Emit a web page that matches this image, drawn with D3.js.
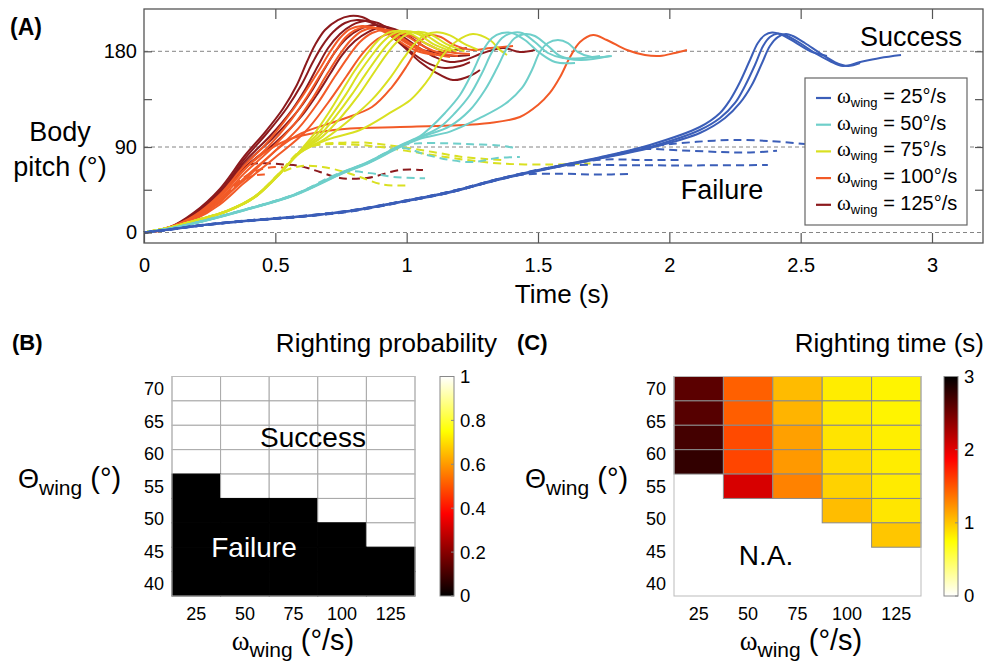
<!DOCTYPE html>
<html>
<head>
<meta charset="utf-8">
<script src="https://cdn.jsdelivr.net/npm/d3@7"></script>
<style>
  body { margin: 0; background: #fff; }
  svg { display: block; font-family: "Liberation Sans", Arial, sans-serif; }
</style>
</head>
<body>
<svg id="chart" width="986" height="665"></svg>
<script>
// ---------- panel A: body pitch trajectories, points are [time (s), pitch (deg)] ----------
const solid25 = [
  [[0,0],[.099,3.3],[.213,7.6],[.404,12.8],[.594,17],[.784,22.9],[.975,32.5],[1.165,43],[1.355,56.8],[1.545,68.4],[1.736,79.2],[1.926,91.9],[2.116,108.8],[2.193,122],[2.231,134.2],[2.269,151.1],[2.307,171.8],[2.337,187.8],[2.364,195.3],[2.391,197.6],[2.421,196.2],[2.478,188.7],[2.535,180.3],[2.6,175.6]],
  [[0,0],[.099,3.2],[.213,7.4],[.404,12.6],[.594,16.8],[.784,22.6],[.975,32.1],[1.165,42.6],[1.355,56.3],[1.545,67.9],[1.736,78.4],[1.926,90],[2.116,106],[2.193,117.3],[2.25,131.4],[2.288,147.4],[2.326,167.1],[2.357,185],[2.383,193.4],[2.413,196.7],[2.44,195.3],[2.497,187.8],[2.554,178.4],[2.611,170.9],[2.661,166.2],[2.726,169.9],[2.802,173.7],[2.882,176.5]],
  [[0,0],[.099,3.1],[.213,7.2],[.404,12.3],[.594,16.5],[.784,22.3],[.975,31.7],[1.165,42.2],[1.355,55.8],[1.545,67.4],[1.736,77.8],[1.926,89],[2.116,103.2],[2.212,117.3],[2.269,131.4],[2.314,148.3],[2.353,169],[2.383,185],[2.413,193.4],[2.444,196.2],[2.47,194.4],[2.516,187.8],[2.573,178.4],[2.63,169.9],[2.68,166.2],[2.726,169]]
];
const dashed25 = [
  [[0,0],[.099,3.3],[.213,7.6],[.404,12.9],[.594,17.2],[.784,23],[.975,32.5],[1.165,43],[1.355,56.6],[1.545,68.2],[1.736,78.8],[1.926,90.5],[2.04,93.5],[2.14,95.5],[2.242,96.6],[2.383,95.6],[2.516,92.8]],
  [[0,0],[.099,3.1],[.213,7.2],[.404,12.4],[.594,16.6],[.784,22.3],[.975,31.8],[1.165,42.3],[1.355,56],[1.545,67.6],[1.736,78.1],[1.888,87.5],[2.04,86.5],[2.193,84.7],[2.307,84.2],[2.41,86]],
  [[0,0],[.099,3.4],[.213,7.8],[.404,13],[.594,17.3],[.784,23.2],[.975,32.6],[1.165,43.2],[1.355,56.8],[1.545,68.3],[1.65,71],[1.85,70.8],[2.04,70.6],[2.2,70.8],[2.375,71]],
  [[0,0],[.099,3],[.213,7],[.404,12.2],[.594,16.3],[.784,22],[.975,31.5],[1.165,42],[1.3,52],[1.431,60.5],[1.584,61.8],[1.724,61],[1.861,61.6]],
  [[0,0],[.099,3.2],[.213,7.3],[.404,12.5],[.594,16.6],[.784,22.4],[.975,31.9],[1.165,42.4],[1.355,56.1],[1.545,67.7],[1.736,76.5],[1.9,76.3],[2.05,76.3]]
];
const solid50 = [
  [[0,0],[.099,4.3],[.19,9.9],[.381,24],[.571,39.8],[.761,64.2],[.849,73.8],[.975,91.6],[1.051,100.2],[1.089,107.9],[1.146,122],[1.203,138.9],[1.249,159.6],[1.287,179.3],[1.325,192.5],[1.363,197.2],[1.401,197.2],[1.45,190.6],[1.507,178.4],[1.565,169.9],[1.641,169]],
  [[0,0],[.099,4.2],[.19,9.7],[.381,23.7],[.571,39.5],[.761,63.7],[.849,73.2],[.975,91],[1.051,99.4],[1.127,108.8],[1.184,122],[1.241,138.9],[1.287,159.6],[1.325,179.3],[1.363,192.5],[1.401,197.2],[1.439,197.2],[1.488,188.7],[1.538,178.4],[1.595,173.7],[1.671,173.7],[1.736,175.5]],
  [[0,0],[.099,4.1],[.19,9.6],[.381,23.5],[.571,39.2],[.761,63.3],[.849,72.8],[.975,90.5],[1.051,98.9],[1.165,109.7],[1.241,124.8],[1.298,143.6],[1.344,164.3],[1.382,183.1],[1.412,192.5],[1.45,196.3],[1.488,194.4],[1.538,185],[1.584,175.6],[1.66,171.8],[1.774,175.6]],
  [[0,0],[.099,4],[.19,9.4],[.381,23.2],[.571,38.8],[.761,62.8],[.849,72.3],[.975,89.8],[1.051,97.8],[1.165,104.5],[1.279,117.3],[1.374,130.4],[1.439,145.5],[1.477,162.4],[1.507,179.3],[1.538,187.8],[1.576,190.6],[1.614,187.8],[1.652,179.3],[1.705,174.6],[1.781,175.6]]
];
const dashed50 = [
  [[0,0],[.099,4.3],[.19,9.9],[.381,24],[.571,40],[.761,64],[.849,73.5],[.975,91],[1.05,93.5],[1.15,93.5],[1.25,92.5],[1.35,91.5],[1.405,89.5]],
  [[0,0],[.099,4.1],[.19,9.6],[.381,23.5],[.571,39.2],[.761,63.4],[.849,72.9],[.975,88.9],[1.077,81.6],[1.165,76.3],[1.253,74.2],[1.344,78.4],[1.431,79.5]],
  [[0,0],[.099,4.2],[.19,9.8],[.381,23.8],[.571,39.6],[.761,63.7],[.86,62.5],[.95,58.5],[1.07,57]]
];
const solid75 = [
  [[0,0],[.099,5.4],[.19,12.3],[.316,22.9],[.419,37.5],[.507,60],[.594,86],[.65,103],[.70,121],[.75,141],[.80,161],[.85,178],[.89,190],[.93,197.5],[.97,199.3],[1.02,196],[1.075,187],[1.14,180]],
  [[0,0],[.099,5.3],[.19,12.2],[.316,22.7],[.419,37.2],[.507,59.7],[.594,85.5],[.66,102],[.715,120],[.77,140],[.82,160],[.87,177],[.91,189],[.95,196.8],[.995,199.1],[1.045,196],[1.1,187],[1.17,180]],
  [[0,0],[.099,5.3],[.19,12.1],[.316,22.6],[.419,37],[.507,59.5],[.594,85],[.67,101],[.73,119],[.79,139],[.845,159],[.895,176.5],[.935,188.5],[.975,196.5],[1.02,198.5],[1.07,195.5],[1.125,187],[1.19,180]],
  [[0,0],[.099,5.2],[.19,12],[.316,22.4],[.419,36.8],[.507,59.2],[.594,84.6],[.68,100],[.75,118],[.815,138],[.87,158],[.92,176],[.96,188],[1.0,196],[1.045,198.3],[1.095,195.5],[1.15,187],[1.22,180]],
  [[0,0],[.099,5.2],[.19,11.9],[.316,22.3],[.419,36.6],[.507,58.9],[.594,84.2],[.69,98],[.78,115],[.87,135],[.94,156],[.99,174],[1.03,187],[1.07,195.5],[1.115,198],[1.165,195],[1.22,187],[1.27,181.5]],
  [[0,0],[.099,5.1],[.19,11.8],[.316,22.2],[.419,36.4],[.507,58.6],[.594,83.8],[.7,97],[.822,106],[.936,122],[1.013,134],[1.051,143.6],[1.089,155.8],[1.138,176.5],[1.191,189.7],[1.252,196.3],[1.317,190.6],[1.355,181.2],[1.382,176.5]]
];
const dashed75 = [
  [[0,0],[.099,5.4],[.19,12.3],[.316,22.8],[.419,37.3],[.507,60],[.594,85.5],[.65,91.5],[.75,92.8],[.9,90],[1.05,83.7],[1.2,77.4],[1.36,72.6],[1.55,71.6],[1.7,72.6]],
  [[0,0],[.099,5.2],[.19,12],[.316,22.4],[.419,36.5],[.48,52],[.53,64],[.6,70],[.68,69],[.76,64],[.822,58.4],[.91,50.5],[.995,49.5]],
  [[0,0],[.099,5.3],[.19,12.2],[.316,22.7],[.419,37.2],[.507,59.8],[.594,85.2],[.66,92],[.75,94],[.85,94],[.98,90],[1.1,84.7],[1.2,80],[1.3,77.4],[1.36,76.3]]
];
const solid100 = [
  [[0,0],[.099,5.8],[.19,17.4],[.289,40],[.381,70],[.461,92],[.537,115],[.601,137],[.662,160.5],[.708,179.3],[.746,192.5],[.784,200.9],[.83,203.8],[.879,201.9],[.936,195.3],[.994,185.9],[1.051,179.3],[1.108,176.5]],
  [[0,0],[.099,4.7],[.19,16.3],[.289,37],[.381,66],[.472,90],[.556,114],[.62,137],[.678,160.5],[.727,179.3],[.765,192.5],[.803,200],[.849,202.8],[.898,200.9],[.955,194.4],[1.013,185.9],[1.07,179.3],[1.146,175.6]],
  [[0,0],[.099,4.7],[.19,15.3],[.289,35],[.381,62],[.48,87],[.571,111],[.64,135.2],[.697,158.6],[.746,177.4],[.788,190.6],[.83,199.1],[.872,201.9],[.925,200],[.975,193.4],[1.032,185],[1.089,178.4],[1.165,174.6]],
  [[0,0],[.099,4.2],[.19,14.2],[.289,32],[.381,57],[.487,83],[.586,107],[.662,131.4],[.723,154.9],[.777,174.6],[.822,188.7],[.868,197.2],[.917,200],[.967,198.1],[1.02,191.5],[1.07,184],[1.127,178.4],[1.195,175.6]],
  [[0,0],[.099,3.7],[.19,13.2],[.289,29.5],[.381,52],[.499,79],[.613,104.1],[.7,131.4],[.769,155.8],[.83,177.4],[.879,189.7],[.929,196.3],[.975,197.2],[1.02,194.4],[1.07,187.8],[1.127,181.2],[1.184,178.4],[1.241,177.4]],
  [[0,0],[.099,4],[.19,15],[.289,34],[.381,55],[.518,90],[.6,103],[.746,115.4],[.868,127.6],[.944,146.4],[.998,165.2],[1.036,181.2],[1.058,190.6],[1.09,195.3],[1.13,193.4],[1.18,186],[1.25,181.2],[1.32,183.1],[1.405,185]],
  [[0,0],[.099,5.8],[.213,20.5],[.308,44],[.404,72],[.48,88],[.556,97.5],[.67,104.1],[.784,107.4],[.975,108.8],[1.165,110.2],[1.317,112.6],[1.431,118.2],[1.5,129.5],[1.545,140.8],[1.584,155.8],[1.622,174.6],[1.66,188.7],[1.71,195.3],[1.762,190.6],[1.839,181.2],[1.907,176.5],[1.964,175.6],[2.021,178.4],[2.067,181.2]]
];
const dashed100 = [
  [[0,0],[.099,4.7],[.19,16],[.289,34],[.38,58],[.44,66],[.5,69],[.53,68.5]],
  [[0,0],[.099,4.5],[.19,15],[.289,32],[.36,52],[.42,60],[.46,61]]
];
const solid125 = [
  [[0,0],[.099,5.8],[.19,21],[.289,46],[.381,80],[.461,104],[.529,126],[.582,148.3],[.62,169.9],[.651,185.9],[.689,200],[.738,209.4],[.784,213.2],[.83,212.2],[.879,205.6],[.936,195.3],[.994,183.1],[1.051,169.9],[1.108,160.5],[1.176,153],[1.241,156.8],[1.279,162.4]],
  [[0,0],[.099,5.3],[.19,20],[.289,44],[.381,77],[.472,104.1],[.544,126.7],[.601,149.3],[.643,169.9],[.678,184.9],[.72,198.1],[.765,206.6],[.811,209.4],[.86,207.5],[.917,200],[.975,188.7],[1.032,176.5],[1.089,168],[1.146,164.3],[1.203,166.2],[1.241,169.9]],
  [[0,0],[.099,4.7],[.19,19],[.289,42],[.381,74],[.48,100.3],[.563,124.8],[.617,145.5],[.662,166.2],[.701,183.1],[.746,196.3],[.792,204.7],[.841,208.5],[.891,206.6],[.944,199.1],[1.001,188.7],[1.058,181.2],[1.127,179.3],[1.184,181.2],[1.229,183.1]],
  [[0,0],[.099,4.7],[.19,18],[.289,40],[.381,71],[.487,97.5],[.579,122],[.636,141.7],[.685,162.4],[.727,179.3],[.773,192.5],[.822,200.9],[.872,204.7],[.925,202.8],[.982,194.4],[1.043,184],[1.108,174.6],[1.165,169.9],[1.222,171.8],[1.29,178.4],[1.367,183.1],[1.431,179.3],[1.488,181.2]],
  [[0,0],[.099,4.2],[.19,17],[.289,38],[.381,68],[.499,93.8],[.594,117.3],[.655,138],[.708,158.6],[.754,176.5],[.803,189.7],[.853,198.1],[.906,202.8],[.955,200.9],[1.013,193.4],[1.07,184],[1.127,177.4],[1.184,175.6],[1.241,176.5]]
];
const dashed125 = [
  [[0,0],[.099,5.3],[.19,19],[.289,42],[.36,66],[.41,72],[.46,73],[.531,71.6],[.594,70],[.67,63.7],[.746,57.4],[.849,57.4],[.975,65.8],[1.062,65.8]]
];

const speeds = [25, 50, 75, 100, 125];
const speedColors = ["#3b5eb8", "#6fcfca", "#d9e021", "#f25a27", "#8c1a1d"];
const timeTicks = [0, 0.5, 1, 1.5, 2, 2.5, 3];
const pitchTicks = [0, 45, 90, 135, 180];
const pitchRefs = [0, 90, 180];

// ---------- panels B and C ----------
const omegaCols = [25, 50, 75, 100, 125];
const thetaRows = [70, 66.25, 62.5, 58.75, 55, 51.25, 47.5, 43.75, 40];
const thetaTicks = [40, 45, 50, 55, 60, 65, 70];
// rows follow thetaRows, columns follow omegaCols
const rightingProb = [
  [1, 1, 1, 1, 1],
  [1, 1, 1, 1, 1],
  [1, 1, 1, 1, 1],
  [1, 1, 1, 1, 1],
  [0, 1, 1, 1, 1],
  [0, 0, 0, 1, 1],
  [0, 0, 0, 0, 1],
  [0, 0, 0, 0, 0],
  [0, 0, 0, 0, 0]
];
const rightingTime = [
  [2.6, 1.45, 1.05, 0.83, 0.8],
  [2.62, 1.46, 1.08, 0.84, 0.8],
  [2.7, 1.55, 1.17, 0.87, 0.82],
  [2.78, 1.57, 1.2, 0.9, 0.83],
  [null, 2.05, 1.3, 0.95, 0.84],
  [null, null, null, 1.04, 0.86],
  [null, null, null, null, 1.0],
  [null, null, null, null, null],
  [null, null, null, null, null]
];
const probTicks = [0, 0.2, 0.4, 0.6, 0.8, 1];
const timeBarTicks = [0, 1, 2, 3];

const svg = d3.select("#chart");
const hot = d3.scaleLinear()
  .domain([0, 0.375, 0.75, 1])
  .range(["#000000", "#ff0000", "#ffff00", "#ffffff"])
  .clamp(true);

//#region panel A
const xA = d3.scaleLinear().domain([0, 3]).range([144, 932]);
const yA = d3.scaleLinear().domain([0, 90, 180]).range([232.5, 147, 51.3]);
const boxA = { left: 144, right: 983, top: 9, bottom: 243 };
const gA = svg.append("g");

gA.selectAll("line.ref")
  .data(pitchRefs)
  .join("line")
  .attr("x1", boxA.left).attr("x2", boxA.right)
  .attr("y1", d => yA(d)).attr("y2", d => yA(d))
  .attr("stroke", "#777").attr("stroke-width", 0.9)
  .attr("stroke-dasharray", "4,3");

const pitchLine = d3.line()
  .x(d => xA(d[0]))
  .y(d => yA(d[1]))
  .curve(d3.curveCatmullRom.alpha(0.5));

const groups = [
  { solid: solid25, dashed: dashed25 },
  { solid: solid50, dashed: dashed50 },
  { solid: solid75, dashed: dashed75 },
  { solid: solid100, dashed: dashed100 },
  { solid: solid125, dashed: dashed125 }
].map((g, i) => ({ ...g, color: speedColors[i] }));

const curves = gA.append("g").attr("fill", "none").attr("stroke-width", 2);
groups.slice().reverse().forEach(g => {
  curves.selectAll(null).data(g.dashed).join("path")
    .attr("d", pitchLine).attr("stroke", g.color)
    .attr("stroke-dasharray", "8,5");
  curves.selectAll(null).data(g.solid).join("path")
    .attr("d", pitchLine).attr("stroke", g.color);
});

function styleAxis(sel, size) {
  sel.select(".domain").remove();
  sel.selectAll(".tick line").attr("stroke", "#555").attr("stroke-width", 1.2);
  sel.selectAll(".tick text").attr("fill", "#000")
    .style("font-size", size + "px")
    .style("font-family", "'Liberation Sans', Arial, sans-serif");
}

gA.append("g").attr("transform", `translate(0,${boxA.bottom})`)
  .call(d3.axisBottom(xA).tickValues(timeTicks).tickSize(-10).tickPadding(15).tickFormat(d => d))
  .call(s => styleAxis(s, 20));
gA.append("g").attr("transform", `translate(0,${boxA.top})`)
  .call(d3.axisTop(xA).tickValues(timeTicks.slice(1)).tickSize(-10).tickFormat(""))
  .call(s => styleAxis(s, 20));
gA.append("g").attr("transform", `translate(${boxA.left},0)`)
  .call(d3.axisLeft(yA).tickValues(pitchTicks).tickSize(-8).tickPadding(7)
    .tickFormat(d => (d % 90 === 0 ? d : "")))
  .call(s => styleAxis(s, 20));
gA.append("g").attr("transform", `translate(${boxA.right},0)`)
  .call(d3.axisRight(yA).tickValues(pitchTicks.slice(1)).tickSize(-8).tickFormat(""))
  .call(s => styleAxis(s, 20));

gA.append("rect")
  .attr("x", boxA.left).attr("y", boxA.top)
  .attr("width", boxA.right - boxA.left).attr("height", boxA.bottom - boxA.top)
  .attr("fill", "none").attr("stroke", "#555").attr("stroke-width", 1.3);

gA.append("text").attr("x", 10).attr("y", 35)
  .attr("font-size", 23).attr("font-weight", "bold").text("(A)");
gA.append("text").attr("x", 60).attr("y", 141).attr("text-anchor", "middle")
  .attr("font-size", 27).text("Body");
gA.append("text").attr("x", 60).attr("y", 176).attr("text-anchor", "middle")
  .attr("font-size", 27).text("pitch (°)");
gA.append("text").attr("x", 562).attr("y", 303).attr("text-anchor", "middle")
  .attr("font-size", 26).text("Time (s)");
gA.append("text").attr("x", 962).attr("y", 46).attr("text-anchor", "end")
  .attr("font-size", 27).text("Success");
gA.append("text").attr("x", 722).attr("y", 199).attr("text-anchor", "middle")
  .attr("font-size", 27).text("Failure");

// legend
const legend = gA.append("g");
legend.append("rect")
  .attr("x", 805).attr("y", 78).attr("width", 162).attr("height", 147)
  .attr("fill", "#fff").attr("stroke", "#666").attr("stroke-width", 1.2);
const entry = legend.selectAll("g.entry")
  .data(speeds)
  .join("g")
  .attr("transform", (d, i) => `translate(0,${98 + i * 26.7})`);
entry.append("line")
  .attr("x1", 816).attr("x2", 831)
  .attr("stroke", (d, i) => speedColors[i]).attr("stroke-width", 2.2);
const entryText = entry.append("text").attr("x", 837).attr("y", 5).attr("font-size", 20);
entryText.append("tspan").attr("font-family", "'Liberation Serif', serif").attr("font-size", 21).text("ω");
entryText.append("tspan").attr("font-size", 13).attr("dy", 4).text("wing");
entryText.append("tspan").attr("dy", -4).text(d => ` = ${d}°/s`);
//#endregion

//#region panels B and C
function subLabel(g, x, y, anchor, sym, symSerif, symSize, subSize, rest) {
  const t = g.append("text").attr("x", x).attr("y", y)
    .attr("text-anchor", anchor).attr("font-size", symSize);
  t.append("tspan")
    .attr("font-family", symSerif ? "'Liberation Serif', serif" : null)
    .text(sym);
  t.append("tspan").attr("font-size", subSize).attr("dy", 7).text("wing");
  t.append("tspan").attr("dy", -7).attr("font-size", 29).text(rest);
}

function drawHeat(opt) {
  const g = svg.append("g");
  const x = d3.scaleBand().domain(omegaCols).range([opt.left, opt.right]);
  const y = d3.scaleBand().domain(thetaRows).range([376.5, 596]);
  const yTick = d3.scaleLinear().domain([38.125, 71.875]).range([596, 376.5]);

  const cells = [];
  opt.values.forEach((row, ri) => row.forEach((v, ci) =>
    cells.push({ theta: thetaRows[ri], omega: omegaCols[ci], v })));

  g.selectAll("rect.cell")
    .data(cells.filter(d => d.v != null))
    .join("rect")
    .attr("x", d => x(d.omega)).attr("y", d => y(d.theta))
    .attr("width", x.bandwidth()).attr("height", y.bandwidth())
    .attr("fill", d => opt.color(d.v))
    .attr("stroke", d => opt.stroke(d.v)).attr("stroke-width", 1);

  g.append("rect")
    .attr("x", opt.left).attr("y", 376.5)
    .attr("width", opt.right - opt.left).attr("height", 596 - 376.5)
    .attr("fill", "none").attr("stroke", "#bbb").attr("stroke-width", 1);

  g.selectAll("text.ytick").data(thetaTicks).join("text")
    .attr("x", opt.left - 8).attr("y", d => yTick(d)).attr("dy", "0.35em")
    .attr("text-anchor", "end").attr("font-size", 18).text(d => d);
  g.selectAll("text.xtick").data(omegaCols).join("text")
    .attr("x", d => x(d) + x.bandwidth() / 2).attr("y", 620)
    .attr("text-anchor", "middle").attr("font-size", 18).text(d => d);

  subLabel(g, opt.thetaX, 488, "start", "Θ", false, 27, 21, " (°)");
  subLabel(g, opt.omegaX, 650, "middle", "ω", true, 27, 21, " (°/s)");

  // colour bar, gradient stops sorted by offset
  const bar = { x: opt.barX, w: 14, top: 376.5, bottom: 596 };
  const stops = hot.domain()
    .map(s => ({ s, offset: opt.barOffset(s) }))
    .sort((a, b) => a.offset - b.offset);
  const grad = svg.append("defs").append("linearGradient")
    .attr("id", opt.id).attr("x1", 0).attr("y1", 0).attr("x2", 0).attr("y2", 1);
  grad.selectAll("stop").data(stops).join("stop")
    .attr("offset", d => d.offset)
    .attr("stop-color", d => hot(d.s));
  const yBar = d3.scaleLinear().domain(opt.barDomain).range([bar.bottom, bar.top]);
  g.append("rect")
    .attr("x", bar.x).attr("y", bar.top).attr("width", bar.w).attr("height", bar.bottom - bar.top)
    .attr("fill", `url(#${opt.id})`).attr("stroke", "#888").attr("stroke-width", 1);
  g.selectAll("line.btick").data(opt.barTicks).join("line")
    .attr("x1", bar.x + bar.w - 3).attr("x2", bar.x + bar.w)
    .attr("y1", d => yBar(d)).attr("y2", d => yBar(d))
    .attr("stroke", "#888");
  g.selectAll("text.btick").data(opt.barTicks).join("text")
    .attr("x", bar.x + bar.w + 6).attr("y", d => yBar(d)).attr("dy", "0.35em")
    .attr("font-size", 18.5).text(d => d);

  g.append("text").attr("x", opt.labelX).attr("y", 350)
    .attr("font-size", 22).attr("font-weight", "bold").text(opt.label);
  g.append("text").attr("x", opt.titleRight).attr("y", 352)
    .attr("text-anchor", "end").attr("font-size", 26).text(opt.title);
  return g;
}

const gB = drawHeat({
  id: "hotProb", left: 172, right: 415, values: rightingProb,
  color: v => hot(v), stroke: v => (v > 0.5 ? "#a8a8a8" : hot(v)),
  thetaX: 18, omegaX: 293, barX: 440,
  barDomain: [0, 1], barTicks: probTicks, barOffset: s => 1 - s,
  label: "(B)", labelX: 12, title: "Righting probability", titleRight: 497
});
gB.append("text").attr("x", 313).attr("y", 447).attr("text-anchor", "middle")
  .attr("font-size", 28).text("Success");
gB.append("text").attr("x", 254).attr("y", 557).attr("text-anchor", "middle")
  .attr("font-size", 28).attr("fill", "#fff").text("Failure");

const gC = drawHeat({
  id: "hotTime", left: 674, right: 921, values: rightingTime,
  color: v => hot(1 - v / 3), stroke: () => "#8a8a8a",
  thetaX: 525, omegaX: 801, barX: 944,
  barDomain: [0, 3], barTicks: timeBarTicks, barOffset: s => s,
  label: "(C)", labelX: 517, title: "Righting time (s)", titleRight: 984
});
gC.append("text").attr("x", 766).attr("y", 565).attr("text-anchor", "middle")
  .attr("font-size", 28).text("N.A.");
//#endregion
</script>
</body>
</html>
